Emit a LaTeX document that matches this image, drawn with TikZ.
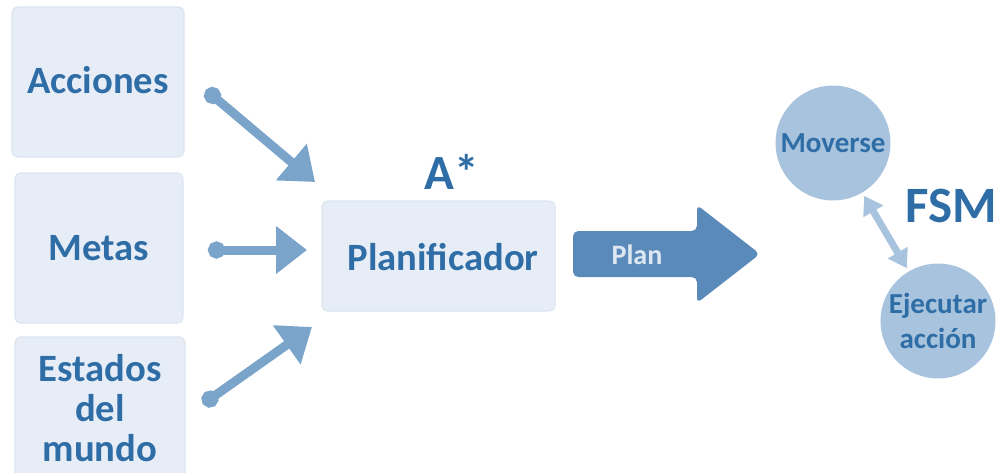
\documentclass[tikz,border=0pt]{standalone}
\usepackage{fontspec}
\setmainfont{Carlito}
\usetikzlibrary{arrows.meta}

\definecolor{boxfill}{HTML}{E6EDF6}
\definecolor{boxedge}{HTML}{DCE5EF}
\definecolor{inktext}{HTML}{2F6DA6}
\definecolor{feedline}{HTML}{7BA4CA}
\definecolor{planblue}{HTML}{5A8AB9}
\definecolor{plantext}{HTML}{DDE7F1}
\definecolor{statefill}{HTML}{A7C3DE}

\tikzset{
  inputbox/.style={draw=boxedge, line width=0.6pt, fill=boxfill, rounded corners=3pt,
    inner sep=0pt, text=inktext, font=\fontsize{22}{25}\selectfont\bfseries, align=center},
  feed/.style={draw=feedline, line width=0.18cm,
    {Circle[length=0.34cm]}-{Triangle[length=0.62cm,width=0.92cm]}},
  statenode/.style={circle, fill=statefill, minimum size=2.3cm, inner sep=0pt,
    text=inktext, font=\fontsize{16.5}{19.5}\selectfont\bfseries, align=center},
  biglabel/.style={text=inktext, font=\fontsize{28}{30}\selectfont\bfseries, inner sep=0pt},
}

\begin{document}
\begin{tikzpicture}[x=0.02cm, y=-0.02cm]
  \useasboundingbox (0,0) rectangle (997,473);

  % input boxes
  \path[inputbox] (12,7) rectangle (184,157);
  \node[inputbox, draw=none, fill=none] (acciones) at (98,80) {Acciones};
  \path[inputbox] (15,173) rectangle (183,323);
  \node[inputbox, draw=none, fill=none] (metas) at (99,248) {Metas};
  \path[inputbox] (15,337) rectangle (185,480);
  \node[inputbox, draw=none, fill=none, text width=4cm,
        font=\fontsize{22}{23}\selectfont\bfseries] (estados) at (100,408) {Estados\\del\\mundo};

  % planner
  \path[inputbox] (322,201) rectangle (555,311);
  \node[inputbox, draw=none, fill=none] (planif) at (443,257) {Planificador};
  \node[biglabel] (astar) at (452,172) {A*};

  % inputs feeding the planner
  \coordinate (accStart) at (206,90);
  \coordinate (accEnd) at (315,182);
  \coordinate (metStart) at (208,250);
  \coordinate (metEnd) at (307,250);
  \coordinate (estStart) at (203,404);
  \coordinate (estEnd) at (312,327);
  \draw[feed] (accStart) -- (accEnd);
  \draw[feed] (metStart) -- (metEnd);
  \draw[feed] (estStart) -- (estEnd);

  % plan arrow
  \fill[planblue, rounded corners=3pt]
    (573,231) -- (697,231) -- (697,205) -- (760,254) -- (697,303) -- (697,277) -- (573,277) -- cycle;
  \node[text=plantext, font=\fontsize{16}{18}\selectfont\bfseries] (plan) at (637,255) {Plan};

  % state machine
  \node[statenode] (moverse) at (833,143) {Moverse};
  \node[statenode] (ejecutar) at (938,321) {Ejecutar\\acción};
  \draw[statefill, line width=0.14cm, shorten <=2pt, shorten >=2pt,
    {Triangle[length=0.36cm,width=0.44cm]}-{Triangle[length=0.36cm,width=0.44cm]}]
    (moverse) -- (ejecutar);
  \node[biglabel, font=\fontsize{29}{31}\selectfont\bfseries] (fsm) at (951,206) {FSM};
\end{tikzpicture}
\end{document}
